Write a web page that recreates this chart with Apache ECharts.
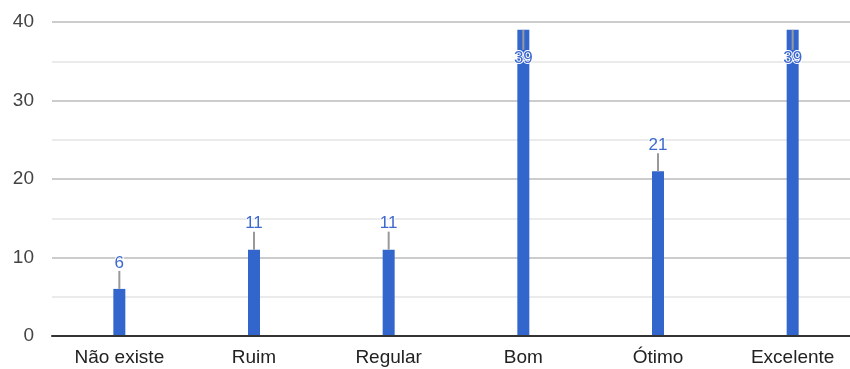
<!DOCTYPE html>
<html><head><meta charset="utf-8">
<script src="https://cdn.jsdelivr.net/npm/echarts@6/dist/echarts.min.js"></script>
<style>html,body{margin:0;padding:0;background:#fff}#c{width:850px;height:369px}</style>
</head><body><div id="c"></div>
<script>
const categories = ['Não existe', 'Ruim', 'Regular', 'Bom', 'Ótimo', 'Excelente'];
const values = [6, 11, 11, 39, 21, 39];
const yTicks = [0, 10, 20, 30, 40];

const chart = echarts.init(document.getElementById('c'), null, {renderer: 'canvas'});
const FONT = '"Liberation Sans", Arial, sans-serif';
chart.setOption({
  animation: false,
  grid: {left: 52, width: 808, top: 22, height: 314, containLabel: false, outerBoundsMode: 'none'},
  xAxis: {
    type: 'category', data: categories,
    axisLine: {show: true, lineStyle: {color: '#333', width: 2}},
    axisTick: {show: false},
    axisLabel: {color: '#222', fontSize: 19, fontFamily: FONT, margin: 12},
    z: 5
  },
  yAxis: {
    type: 'value', min: yTicks[0], max: yTicks[yTicks.length - 1], interval: 10,
    axisLine: {show: false}, axisTick: {show: false},
    axisLabel: {color: '#444', fontSize: 19, fontFamily: FONT, margin: 18},
    splitLine: {lineStyle: {color: '#cccccc', width: 2}},
    minorTick: {show: false, splitNumber: 2},
    minorSplitLine: {show: true, lineStyle: {color: '#ebebeb', width: 2}}
  },
  series: [
    {type: 'bar', data: values, barWidth: 12, itemStyle: {color: '#3366cc'}, z: 3},
    {
      type: 'custom', z: 6,
      data: values.map((v, i) => [i, v]),
      renderItem: function (params, api) {
        const p = api.coord([api.value(0), api.value(1)]);
        const top = params.coordSys.y;
        const up = (p[1] - 18 - 16) >= top - 2;
        const y2 = up ? p[1] - 18 : p[1] + 20;
        return {
          type: 'group',
          children: [
            {type: 'line', shape: {x1: p[0], y1: p[1], x2: p[0], y2: y2},
             style: {stroke: '#999999', lineWidth: 2}},
            {type: 'text', x: p[0], y: up ? y2 - 8 : y2 + 8,
             style: {text: String(api.value(1)), fill: '#3d68d0', fontSize: 17,
               fontFamily: FONT, align: 'center', verticalAlign: 'middle',
               stroke: '#ffffff', lineWidth: 2}}
          ]
        };
      }
    }
  ]
});
</script></body></html>
